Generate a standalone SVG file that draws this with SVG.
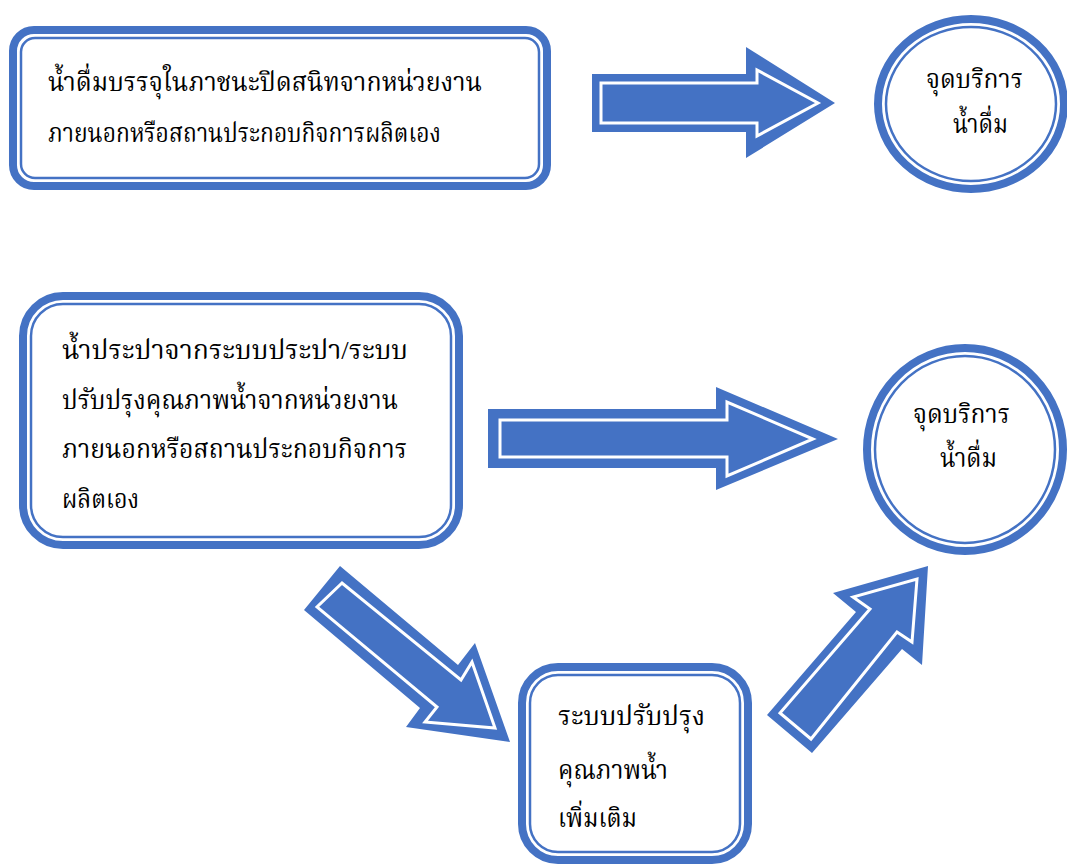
<svg xmlns="http://www.w3.org/2000/svg" width="1067" height="864" viewBox="0 0 1067 864">
<style>
.thick{fill:none;stroke:#4472C4;stroke-width:8}
.thin{fill:none;stroke:#4472C4;stroke-width:2.5}
.bg{fill:#FFFFFF}
.ao{fill:#4472C4;stroke:none}
.ai{fill:#4472C4;stroke:#FFFFFF;stroke-width:3;stroke-linejoin:miter}
.t{font-family:"Liberation Serif","Noto Serif Thai","Noto Sans Thai",serif;font-size:26px;fill:#000000}
</style>
<rect width="1067" height="864" fill="#FFFFFF"/>
<g id="connectors">
<g id="arrow-top">
<polygon class="ao" points="592,74 746,74 746,47 835,103 746,158 746,132 592,132"/>
<polygon class="ai" points="601,83 757,83 757,70 818,103 757,136 757,123 601,123"/>
</g>
<g id="arrow-middle">
<polygon class="ao" points="488,409 716,409 716,387 838,439 716,490 716,468 488,468"/>
<polygon class="ai" points="500,420 727,420 727,402 813,439 727,476 727,457 500,457"/>
</g>
<g id="arrow-down">
<polygon class="ao" points="340,566 304,610 420,708 406,727 510,742 475,643 458,665"/>
<polygon class="ai" points="342,583 317,607 437,707 425,722 495,728 472,662 461,680"/>
</g>
<g id="arrow-up">
<polygon class="ao" points="767,715 812,753 902,649 922,665 928,566 833,593 856,612"/>
<polygon class="ai" points="780,713 811,739 897,632 912,642 917,579 853,597 870,609"/>
</g>
</g>
<g id="node-bottled">
<rect class="bg thick" x="13" y="30" width="534" height="156" rx="21"/>
<rect class="thin" x="21" y="38" width="518" height="140" rx="14"/>
<text class="t" x="48" y="91" textLength="434" lengthAdjust="spacingAndGlyphs">น้ำดื่มบรรจุในภาชนะปิดสนิทจากหน่วยงาน</text>
<text class="t" x="48" y="142" textLength="393" lengthAdjust="spacingAndGlyphs">ภายนอกหรือสถานประกอบกิจการผลิตเอง</text>
</g>
<g id="node-service1">
<ellipse class="bg thick" cx="971" cy="104" rx="93" ry="85"/>
<ellipse class="thin" cx="971" cy="104" rx="85" ry="77"/>
<text class="t" x="926" y="88" textLength="97" lengthAdjust="spacingAndGlyphs">จุดบริการ</text>
<text class="t" x="953" y="133" textLength="55" lengthAdjust="spacingAndGlyphs">น้ำดื่ม</text>
</g>
<g id="node-tap">
<rect class="bg thick" x="23" y="296" width="436" height="249" rx="40"/>
<rect class="thin" x="31" y="304" width="420" height="233" rx="32"/>
<text class="t" x="62" y="359" textLength="346" lengthAdjust="spacingAndGlyphs">น้ำประปาจากระบบประปา/ระบบ</text>
<text class="t" x="62" y="409" textLength="336" lengthAdjust="spacingAndGlyphs">ปรับปรุงคุณภาพน้ำจากหน่วยงาน</text>
<text class="t" x="62" y="458" textLength="345" lengthAdjust="spacingAndGlyphs">ภายนอกหรือสถานประกอบกิจการ</text>
<text class="t" x="62" y="508" textLength="77" lengthAdjust="spacingAndGlyphs">ผลิตเอง</text>
</g>
<g id="node-service2">
<ellipse class="bg thick" cx="965" cy="449.5" rx="98" ry="101.5"/>
<ellipse class="thin" cx="965" cy="449.5" rx="90" ry="93.5"/>
<text class="t" x="913" y="423" textLength="97" lengthAdjust="spacingAndGlyphs">จุดบริการ</text>
<text class="t" x="940" y="467" textLength="57" lengthAdjust="spacingAndGlyphs">น้ำดื่ม</text>
</g>
<g id="node-extra">
<rect class="bg thick" x="522" y="667" width="226" height="193" rx="36"/>
<rect class="thin" x="530" y="675" width="210" height="177" rx="28"/>
<text class="t" x="558" y="725" textLength="147" lengthAdjust="spacingAndGlyphs">ระบบปรับปรุง</text>
<text class="t" x="558" y="779" textLength="110" lengthAdjust="spacingAndGlyphs">คุณภาพน้ำ</text>
<text class="t" x="558" y="827" textLength="79" lengthAdjust="spacingAndGlyphs">เพิ่มเติม</text>
</g>
</svg>
